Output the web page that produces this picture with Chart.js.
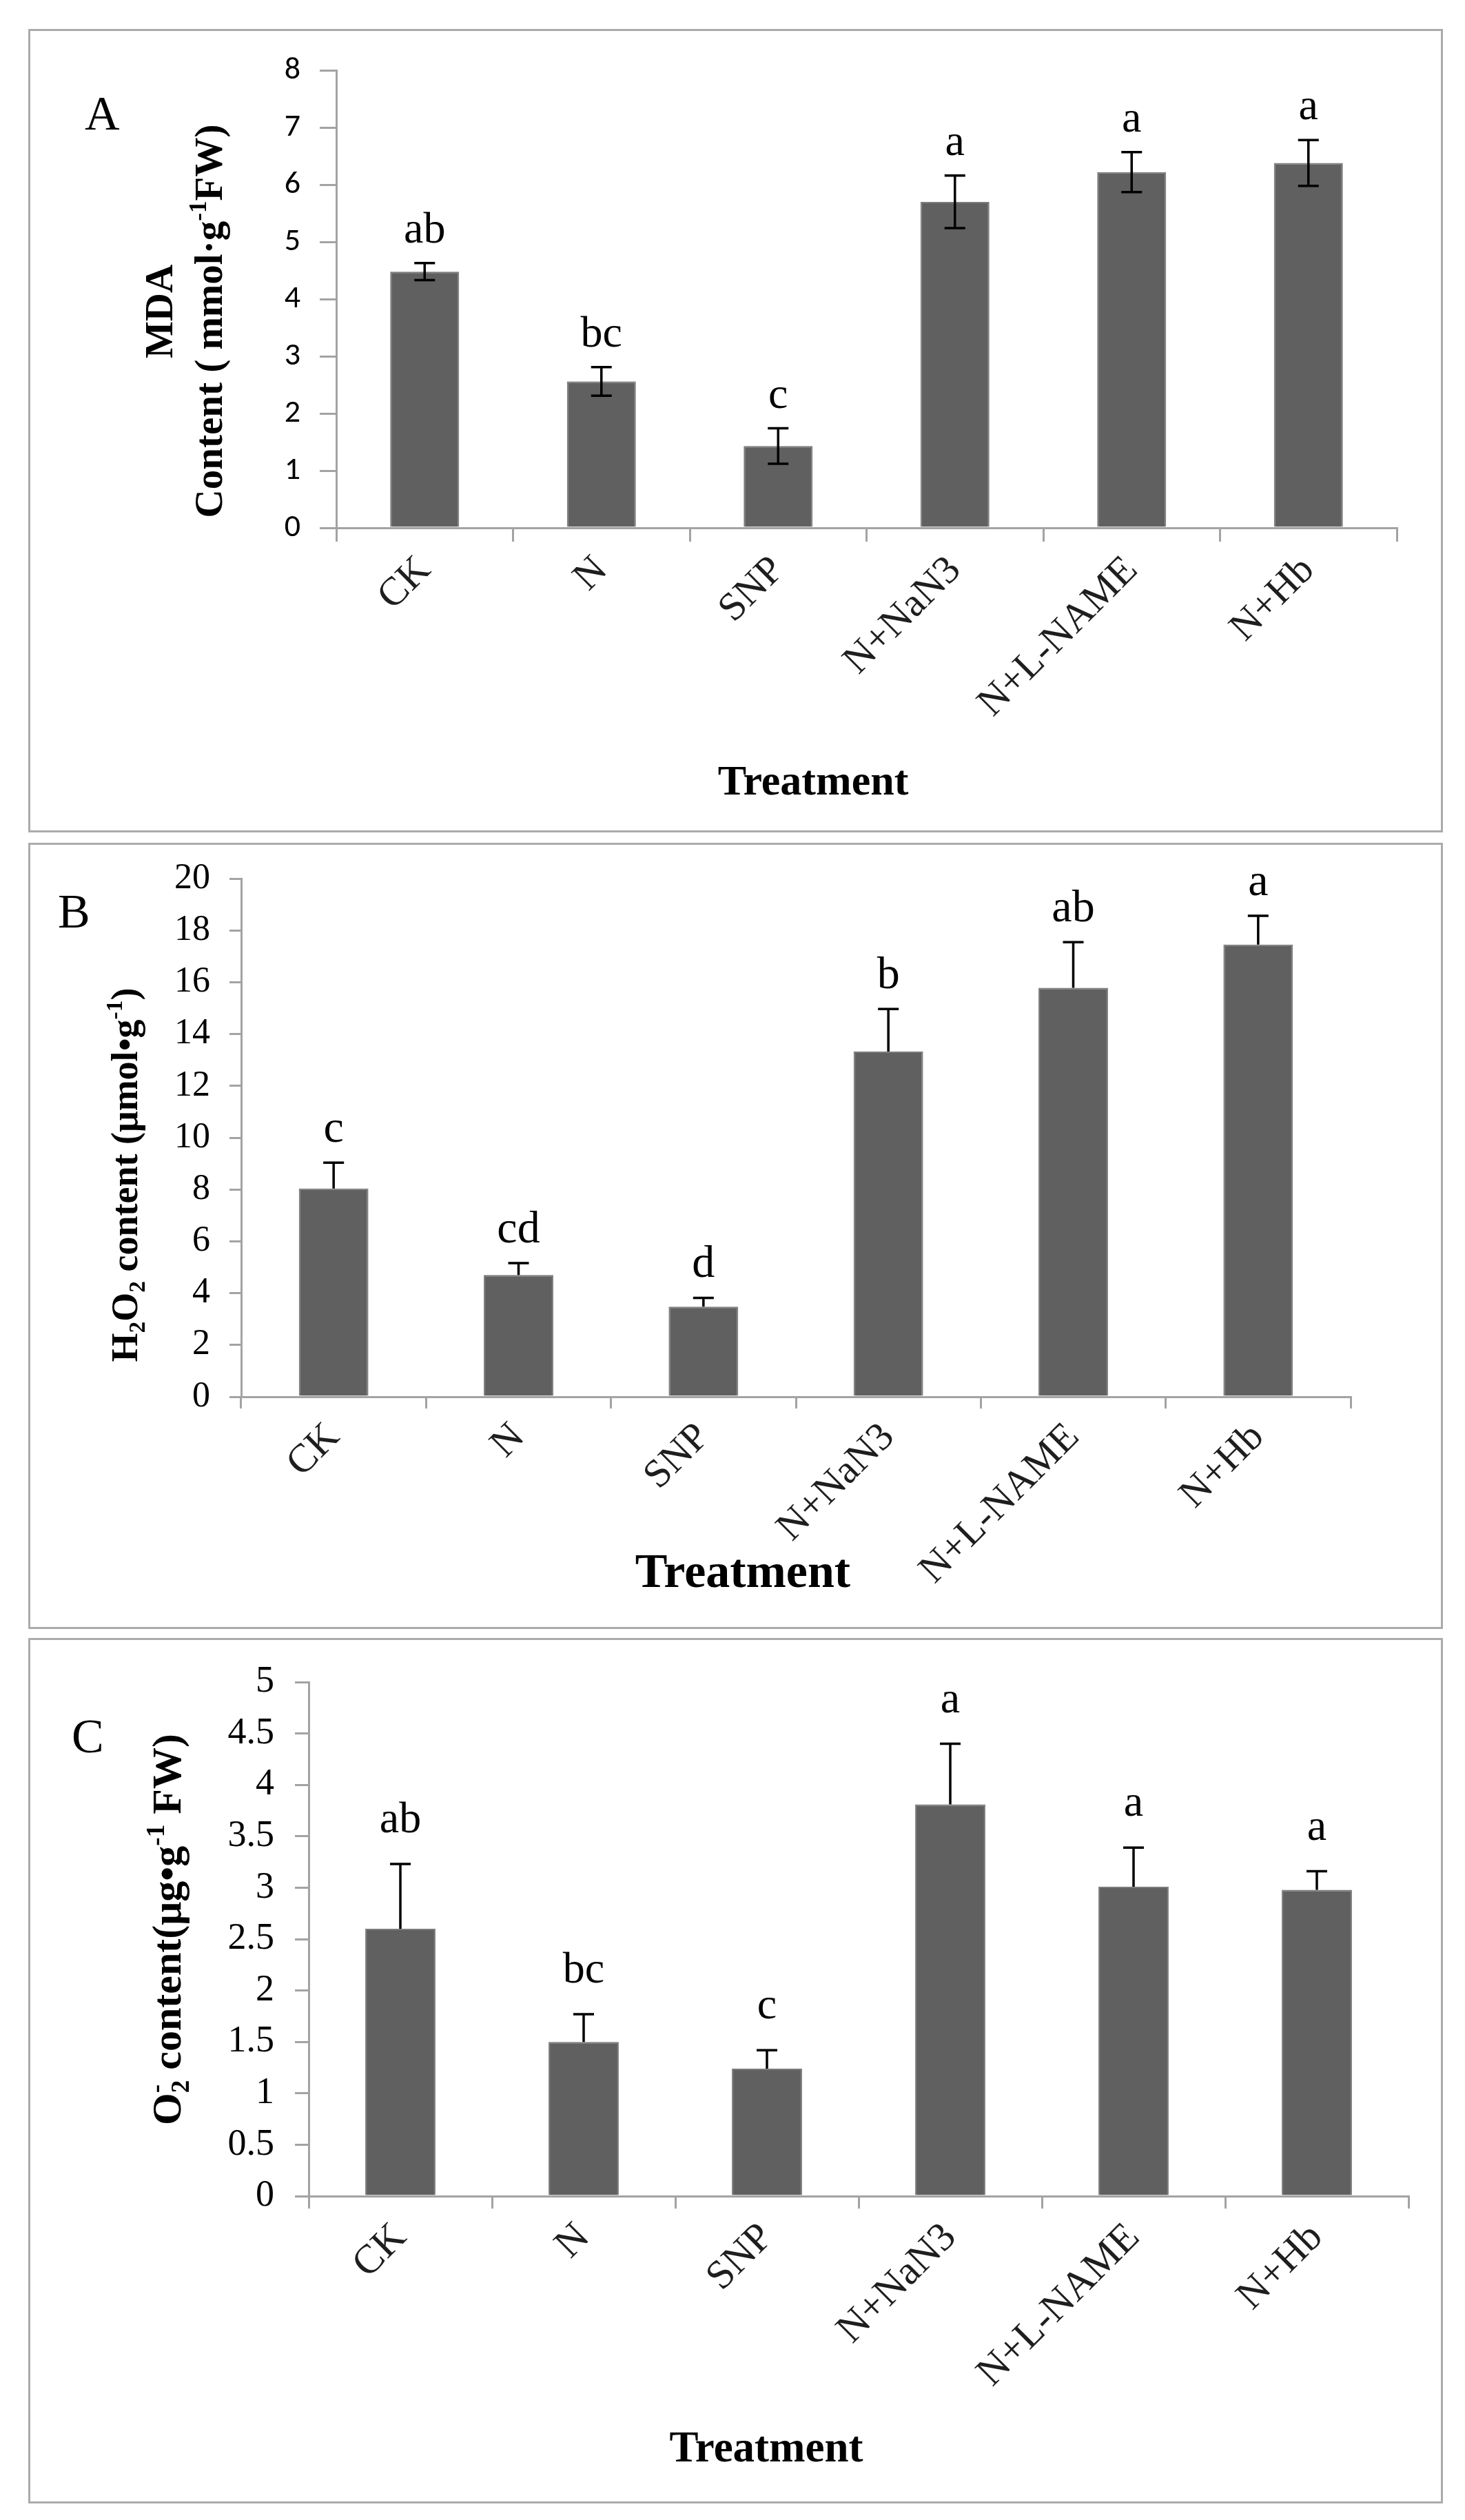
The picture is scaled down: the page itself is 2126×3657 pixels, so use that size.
<!DOCTYPE html>
<html><head><meta charset="utf-8">
<script src="https://cdn.jsdelivr.net/npm/chart.js@4.4.1/dist/chart.umd.min.js"></script>
<style>
html,body{margin:0;padding:0;background:#fff;}
body{width:2126px;height:3657px;position:relative;overflow:hidden;}
.frame{position:absolute;left:41px;width:2053px;border:3px solid #ababab;box-sizing:border-box;}
canvas{position:absolute;left:0;}
</style></head><body>
<div class="frame" style="top:42px;height:1166px"></div>
<div class="frame" style="top:1223px;height:1141px"></div>
<div class="frame" style="top:2377px;height:1256px"></div>
<canvas id="cA" width="2126" height="1216" style="top:0px;width:2126px;height:1216px"></canvas>
<canvas id="cB" width="2126" height="1155" style="top:1216px;width:2126px;height:1155px"></canvas>
<canvas id="cC" width="2126" height="1286" style="top:2371px;width:2126px;height:1286px"></canvas>
<script>
// ---------- data ----------
const categories = ['CK', 'N', 'SNP', 'N+NaN3', 'N+L-NAME', 'N+Hb'];

const mdaValues  = [4.48, 2.56, 1.43, 5.70, 6.22, 6.38];
const mdaErrors  = [0.15, 0.25, 0.31, 0.46, 0.35, 0.40];
const mdaLetters = ['ab', 'bc', 'c', 'a', 'a', 'a'];
const mdaTicks   = {min: 0, max: 8, step: 1};

const h2o2Values  = [8.04, 4.70, 3.48, 13.33, 15.79, 17.46];
const h2o2Errors  = [1.00, 0.46, 0.34, 1.64, 1.76, 1.11];
const h2o2Letters = ['c', 'cd', 'd', 'b', 'ab', 'a'];
const h2o2Ticks   = {min: 0, max: 20, step: 2};

const o2Values  = [2.60, 1.50, 1.24, 3.81, 3.01, 2.98];
const o2Errors  = [0.63, 0.27, 0.18, 0.59, 0.38, 0.18];
const o2Letters = ['ab', 'bc', 'c', 'a', 'a', 'a'];
const o2Ticks   = {min: 0, max: 5, step: 0.5};

const xTitleText = 'Treatment';

// ---------- helpers ----------
const SERIF = '"Liberation Serif", "Times New Roman", serif';

function drawRich(ctx, parts, cx, cy, size) {
  const small = size * 0.62;
  const f = s => `bold ${s}px ${SERIF}`;
  const widths = parts.map(p => {
    if (p.t !== undefined) { ctx.font = f(size); return ctx.measureText(p.t).width; }
    ctx.font = f(small);
    return Math.max(p.sub ? ctx.measureText(p.sub).width : 0, p.sup ? ctx.measureText(p.sup).width : 0);
  });
  const W = widths.reduce((a, b) => a + b, 0);
  ctx.save();
  ctx.translate(cx, cy);
  ctx.rotate(-Math.PI / 2);
  ctx.fillStyle = '#000';
  ctx.textAlign = 'left';
  ctx.textBaseline = 'alphabetic';
  let x = -W / 2;
  const base = size * 0.33;
  parts.forEach((p, i) => {
    if (p.t !== undefined) { ctx.font = f(size); ctx.fillText(p.t, x, base); }
    else {
      ctx.font = f(small);
      if (p.sub) ctx.fillText(p.sub, x, base + size * 0.2);
      if (p.sup) ctx.fillText(p.sup, x, base - size * 0.4);
    }
    x += widths[i];
  });
  ctx.restore();
}

const annotPlugin = {
  id: 'annot',
  afterDatasetsDraw(chart, args, o) {
    const ctx = chart.ctx;
    const ys = chart.scales.y;
    const meta = chart.getDatasetMeta(0);
    const vals = chart.data.datasets[0].data;
    ctx.save();
    meta.data.forEach((bar, i) => {
      const v = vals[i], e = o.errors[i];
      const x = bar.x;
      const yTop = ys.getPixelForValue(v + e);
      const yBot = o.both ? ys.getPixelForValue(v - e) : bar.y;
      ctx.strokeStyle = '#000';
      ctx.lineWidth = o.errWidth;
      ctx.beginPath();
      ctx.moveTo(x, yTop); ctx.lineTo(x, yBot);
      ctx.moveTo(x - o.cap / 2, yTop); ctx.lineTo(x + o.cap / 2, yTop);
      if (o.both) { ctx.moveTo(x - o.cap / 2, yBot); ctx.lineTo(x + o.cap / 2, yBot); }
      ctx.stroke();
      ctx.fillStyle = '#000';
      ctx.font = `${o.letterSize}px ${SERIF}`;
      ctx.textAlign = 'center';
      ctx.textBaseline = 'alphabetic';
      ctx.fillText(o.letters[i], x, yTop - o.gap);
    });
    ctx.restore();
  },
  afterDraw(chart, args, o) {
    const ctx = chart.ctx;
    const top = o.canvasTop;
    ctx.save();
    ctx.fillStyle = '#000';
    ctx.font = `${o.panel.size}px ${SERIF}`;
    ctx.textAlign = 'left';
    ctx.textBaseline = 'alphabetic';
    ctx.fillText(o.panel.text, o.panel.x, o.panel.y - top);
    ctx.font = `bold ${o.xTitle.size}px ${SERIF}`;
    ctx.textAlign = 'center';
    ctx.fillText(o.xTitle.text, o.xTitle.cx, o.xTitle.y - top);
    ctx.restore();
    o.yTitles.forEach(t => drawRich(ctx, t.parts, t.cx, t.cy - top, t.size));
  }
};

function makeChart(id, cfg) {
  const top = cfg.canvasTop;
  const canvasH = document.getElementById(id).height;
  const gray = '#a3a3a3';
  return new Chart(document.getElementById(id), {
    type: 'bar',
    data: {
      labels: categories,
      datasets: [{
        data: cfg.values,
        backgroundColor: '#606060',
        borderColor: '#7c7c7c',
        borderWidth: 2,
        barPercentage: cfg.barPct,
        categoryPercentage: 1.0
      }]
    },
    plugins: [annotPlugin],
    options: {
      responsive: false,
      devicePixelRatio: 1,
      animation: false,
      layout: {padding: {left: 0, right: 2126 - cfg.plot.right, top: cfg.plot.top - top, bottom: 0}},
      plugins: {
        legend: {display: false},
        tooltip: {enabled: false},
        annot: {
          canvasTop: top,
          errors: cfg.errors, letters: cfg.letters, both: cfg.both,
          gap: cfg.gap, cap: 30, errWidth: 3.5, letterSize: cfg.letterSize,
          panel: cfg.panel, xTitle: cfg.xTitle, yTitles: cfg.yTitles
        }
      },
      scales: {
        x: {
          type: 'category',
          offset: true,
          grid: {offset: true, drawOnChartArea: false, drawTicks: true, tickLength: cfg.xTickLen, color: gray, lineWidth: 3},
          border: {display: true, color: gray, width: 3},
          ticks: {
            autoSkip: false, minRotation: 45, maxRotation: 45, padding: 8,
            color: '#1e1e1e',
            font: {family: SERIF, size: cfg.xLabelSize}
          },
          afterFit: s => { s.height = canvasH - (cfg.plot.bottom - top); }
        },
        y: {
          min: cfg.ticks.min, max: cfg.ticks.max,
          grid: {drawOnChartArea: false, drawTicks: true, tickLength: cfg.yTickLen, color: gray, lineWidth: 3},
          border: {display: true, color: gray, width: 3},
          ticks: {
            stepSize: cfg.ticks.step, padding: cfg.yTickPad, color: '#000',
            font: cfg.yTickFont,
            callback: v => String(Math.round(v * 100) / 100)
          },
          afterFit: s => { s.width = cfg.plot.left; }
        }
      }
    }
  });
}

// Panel A
makeChart('cA', {
  canvasTop: 0,
  values: mdaValues, errors: mdaErrors, letters: mdaLetters, ticks: mdaTicks,
  both: true, gap: 30, letterSize: 64, barPct: 0.39,
  plot: {left: 488, right: 2027, top: 102, bottom: 766},
  xTickLen: 20, yTickLen: 24, yTickPad: 28, xLabelSize: 58,
  yTickFont: {family: 'Carlito, Lato, "Liberation Sans", sans-serif', size: 46},
  panel: {text: 'A', x: 123, y: 188, size: 70},
  xTitle: {text: xTitleText, cx: 1180, y: 1153, size: 62},
  yTitles: [
    {cx: 231, cy: 452, size: 57, parts: [{t: 'MDA'}]},
    {cx: 303, cy: 466, size: 57, parts: [{t: 'Content ( mmol·g'}, {sup: '-1'}, {t: 'FW)'}]}
  ]
});

// Panel B
makeChart('cB', {
  canvasTop: 1216,
  values: h2o2Values, errors: h2o2Errors, letters: h2o2Letters, ticks: h2o2Ticks,
  both: false, gap: 30, letterSize: 66, barPct: 0.376,
  plot: {left: 350, right: 1960, top: 1261, bottom: 2027},
  xTickLen: 17, yTickLen: 17, yTickPad: 28, xLabelSize: 58,
  yTickFont: {family: SERIF, size: 52},
  panel: {text: 'B', x: 84, y: 1346, size: 70},
  xTitle: {text: xTitleText, cx: 1078, y: 2303, size: 70},
  yTitles: [
    {cx: 181, cy: 1705, size: 54, parts: [{t: 'H'}, {sub: '2'}, {t: 'O'}, {sub: '2'}, {t: ' content (μmol•g'}, {sup: '-1'}, {t: ')'}]}
  ]
});

// Panel C
makeChart('cC', {
  canvasTop: 2371,
  values: o2Values, errors: o2Errors, letters: o2Letters, ticks: o2Ticks,
  both: false, gap: 46, letterSize: 64, barPct: 0.383,
  plot: {left: 448, right: 2044, top: 2441, bottom: 3187},
  xTickLen: 18, yTickLen: 20, yTickPad: 30, xLabelSize: 59,
  yTickFont: {family: SERIF, size: 54},
  panel: {text: 'C', x: 104, y: 2543, size: 70},
  xTitle: {text: xTitleText, cx: 1112, y: 3572, size: 63},
  yTitles: [
    {cx: 242, cy: 2800, size: 60, parts: [{t: 'O'}, {sub: '2', sup: '-'}, {t: ' content(μg•g'}, {sup: '-1'}, {t: ' FW)'}]}
  ]
});
</script>
</body></html>
